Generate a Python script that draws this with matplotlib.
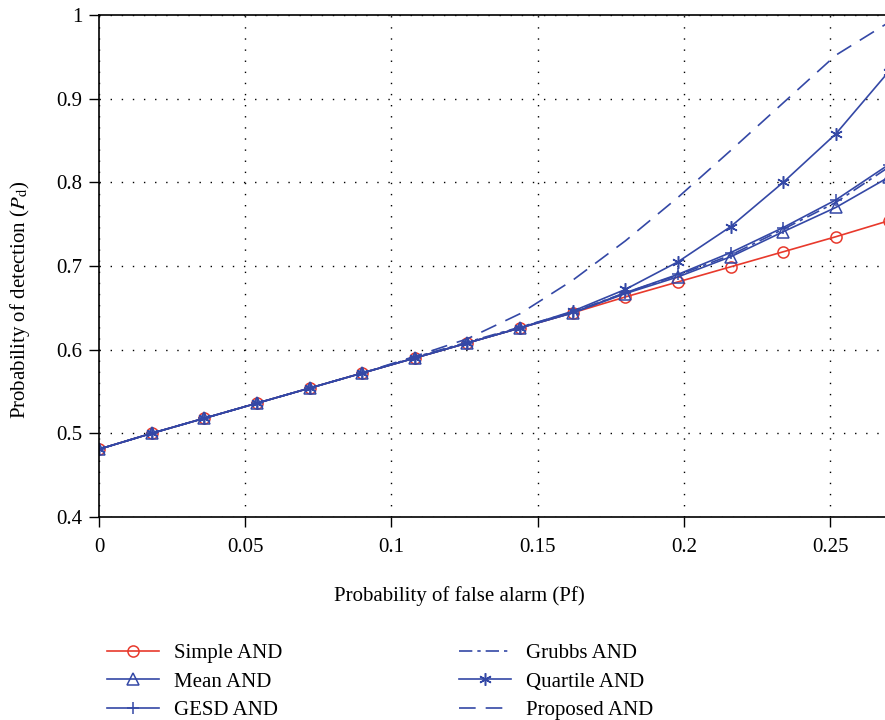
import numpy as np
import matplotlib
matplotlib.use("Agg")
import matplotlib.pyplot as plt
from matplotlib.ticker import FormatStrFormatter

plt.rcParams['font.family'] = ['Liberation Serif', 'DejaVu Serif']
plt.rcParams['mathtext.fontset'] = 'stix'

# false alarm probability (every 0.018)
pf = [0.0, 0.018, 0.036, 0.054, 0.072, 0.09, 0.108, 0.126, 0.144, 0.162,
      0.18, 0.198, 0.216, 0.234, 0.252, 0.27]

# shared part of the curves up to pf = 0.162
base = [0.481, 0.500, 0.518, 0.536, 0.554, 0.572, 0.590, 0.608, 0.626, 0.644]

simple_and = base + [0.663, 0.681, 0.699, 0.717, 0.735, 0.754]
mean_and = base + [0.667, 0.687, 0.711, 0.741, 0.770, 0.806]
gesd_and = base + [0.668, 0.690, 0.716, 0.746, 0.779, 0.821]
grubbs_and = base[:6] + [0.591, 0.609, 0.627, 0.645, 0.668, 0.689, 0.713, 0.744, 0.776, 0.818]
quartile_and = base[:9] + [0.646, 0.672, 0.705, 0.747, 0.800, 0.858, 0.932]
proposed_and = base[:6] + [0.592, 0.613, 0.643, 0.683, 0.730, 0.782, 0.838, 0.895, 0.952, 0.991]

blue = '#3448a6'
red = '#e8392c'
fs = 15

fig = plt.figure(figsize=(8.85, 7.2), dpi=100)
ax = fig.add_axes([99/885, 1 - 517/720, 1 - 99/885, (517 - 15)/720])

asterisk = (6, 2, 0)
ax.plot(pf, simple_and, color=red, lw=1.2, marker='o', ms=8, mfc='none', mew=1.1, label='Simple AND')
ax.plot(pf, mean_and, color=blue, lw=1.2, marker='^', ms=8.5, mfc='none', mew=1.1, label='Mean AND')
ax.plot(pf, gesd_and, color=blue, lw=1.2, marker='+', ms=9, mew=1.1, label='GESD AND')
ax.plot(pf, grubbs_and, color=blue, lw=1.2, ls=(0, (8, 3, 2, 3)), label='Grubbs AND')
ax.plot(pf, quartile_and, color=blue, lw=1.2, marker=asterisk, ms=9, mew=1.1, label='Quartile AND')
ax.plot(pf, proposed_and, color=blue, lw=1.2, ls=(0, (10, 6)), label='Proposed AND')

ax.set_xlim(0, 0.2688)
ax.set_ylim(0.4, 1.0)
ax.set_xticks([0, 0.05, 0.1, 0.15, 0.2, 0.25])
ax.set_yticks([0.4, 0.5, 0.6, 0.7, 0.8, 0.9, 1.0])
ax.xaxis.set_major_formatter(FormatStrFormatter('%g'))
ax.yaxis.set_major_formatter(FormatStrFormatter('%g'))
ax.tick_params(labelsize=fs, direction='out', length=7, width=1, color='black')
ax.tick_params(axis='x', pad=8)
ax.tick_params(axis='y', pad=5)
ax.grid(True, color='black', ls=(0, (1, 7)), lw=1)
ax.spines['right'].set_visible(False)
for s in ['left', 'bottom', 'top']:
    ax.spines[s].set_linewidth(1.2)

ax.set_xlabel('Probability of false alarm (Pf)', fontsize=fs)
ax.xaxis.set_label_coords((461 - 99) / 789, -0.137)
ax.set_ylabel(r'Probability of detection ($P_{\mathrm{d}}$)', fontsize=fs)
ax.yaxis.set_label_coords(-0.085, 0.432)

handles, labels = ax.get_legend_handles_labels()
fig.legend(handles, labels, loc='upper left', bbox_to_anchor=(88/885, 1 - 625/720),
           ncol=2, frameon=False, fontsize=fs, handlelength=2.5,
           columnspacing=8.5, labelspacing=0.42, handletextpad=0.72)

fig.savefig('out.png', dpi=100)
